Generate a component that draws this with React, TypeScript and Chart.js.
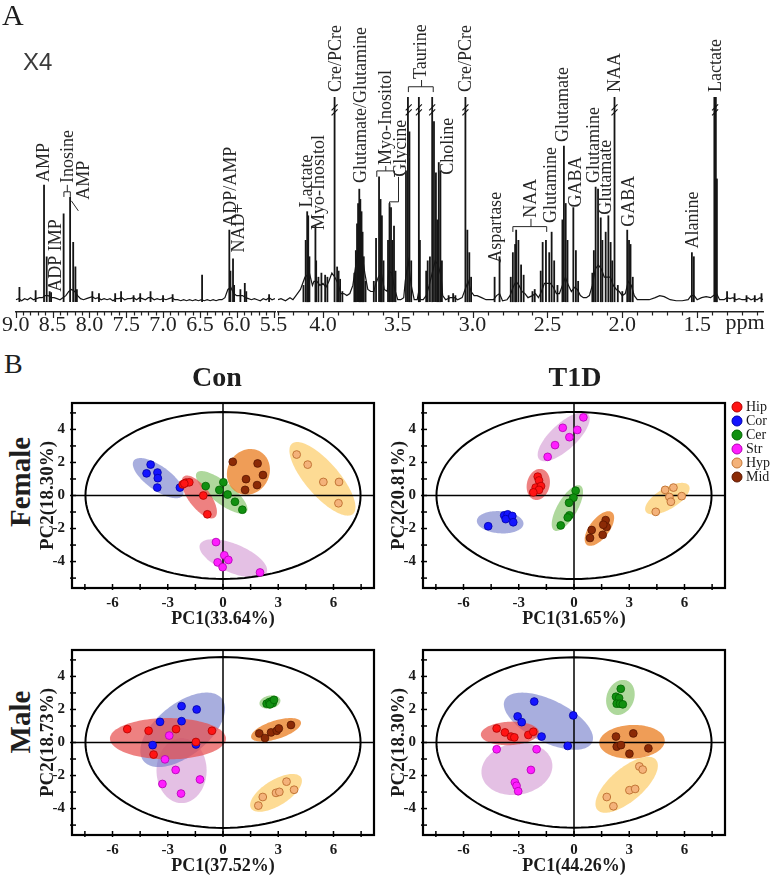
import React, { useEffect, useRef } from 'react';
import { Chart, registerables } from 'chart.js';

Chart.register(...registerables);

const SERIF = "'Liberation Serif', 'Times New Roman', serif";
const SANS = "'Liberation Sans', Arial, sans-serif";

// ================= Panel A : 1H NMR spectrum =================
const leftRange = [5.48, 9.0];
const rightRange = [1.06, 4.3];
const leftTickLabels = [9.0, 8.5, 8.0, 7.5, 7.0, 6.5, 6.0, 5.5];
const rightTickLabels = [4.0, 3.5, 3.0, 2.5, 2.0, 1.5];

// baseline trace [ppm, intensity]
const leftBaseline: number[][] = [
  [9.0, 1], [8.96, 1.5], [8.92, 0.5], [8.88, 1.5], [8.84, 1], [8.8, 2], [8.76, 1], [8.72, 1.5], [8.68, 2], [8.64, 2],
  [8.6, 3], [8.56, 3], [8.52, 2], [8.48, 2], [8.44, 1.5], [8.4, 1], [8.36, 2], [8.32, 3], [8.28, 5], [8.24, 6],
  [8.2, 5], [8.16, 3], [8.12, 1.5], [8.08, 1], [8.04, 1.5], [8.0, 2], [7.96, 2.5], [7.92, 1.5], [7.88, 2], [7.84, 1],
  [7.8, 1.5], [7.76, 1], [7.72, 1.5], [7.68, 0.5], [7.64, 1.5], [7.6, 1.5], [7.56, 2], [7.52, 1], [7.48, 1.5], [7.44, 1.5],
  [7.4, 2], [7.36, 1], [7.32, 2], [7.28, 1.5], [7.24, 1], [7.2, 2], [7.16, 2], [7.12, 1], [7.08, 1.5], [7.04, 1],
  [7.0, 1.5], [6.96, 1], [6.92, 1.5], [6.88, 2], [6.84, 1], [6.8, 1], [6.76, 0.5], [6.72, 1], [6.68, 0.5], [6.64, 1],
  [6.6, 0.5], [6.56, 1], [6.52, 0.5], [6.48, 1], [6.44, 0.5], [6.4, 1], [6.36, 0.5], [6.32, 1], [6.28, 0.5], [6.24, 1],
  [6.2, 1], [6.16, 2], [6.12, 6], [6.08, 7], [6.04, 4], [6.0, 3], [5.96, 3], [5.92, 3], [5.88, 2], [5.84, 1.5],
  [5.8, 1], [5.76, 1.5], [5.72, 1], [5.68, 0.5], [5.64, 1.5], [5.6, 1], [5.56, 2], [5.52, 1], [5.48, 1.5],
];
const leftPeaks: number[][] = [
  [8.95, 7], [8.73, 5.5], [8.616, 57], [8.58, 22], [8.54, 5], [8.52, 4.5],
  [8.35, 43], [8.262, 51], [8.22, 29], [8.19, 17], [8.17, 6],
  [7.96, 5], [7.87, 4], [7.65, 4], [7.57, 5], [7.4, 3], [7.31, 4], [7.17, 5], [7.0, 3], [6.87, 3.5],
  [6.47, 13], [6.1, 35], [6.085, 15], [6.05, 21], [6.035, 8], [5.95, 6], [5.89, 9], [5.87, 5], [5.56, 3.5],
];
const rightBaseline: number[][] = [
  [4.3, 1], [4.28, 1.5], [4.25, 0.5], [4.22, 2], [4.2, 1], [4.18, 3], [4.15, 6], [4.12, 12], [4.09, 14], [4.07, 8],
  [4.06, 10], [4.04, 10], [4.02, 8], [4.0, 9], [3.98, 7], [3.96, 10], [3.94, 14], [3.92, 12], [3.9, 9], [3.88, 4],
  [3.86, 4], [3.84, 3], [3.82, 4], [3.8, 8], [3.78, 18], [3.76, 26], [3.74, 24], [3.72, 14], [3.7, 6], [3.68, 5],
  [3.66, 5], [3.65, 8], [3.63, 12], [3.61, 14], [3.59, 6], [3.57, 5], [3.56, 15], [3.54, 14], [3.52, 6], [3.5, 1],
  [3.48, 1], [3.46, 2], [3.45, 10], [3.43, 20], [3.41, 8], [3.39, 1], [3.37, 1], [3.36, 5], [3.35, 1], [3.33, 1],
  [3.31, 3], [3.29, 8], [3.27, 14], [3.25, 20], [3.23, 18], [3.21, 12], [3.2, 3], [3.18, 1], [3.15, 2], [3.12, 2],
  [3.1, 1], [3.07, 2], [3.05, 6], [3.03, 10], [3.01, 5], [2.99, 3], [2.97, 3], [2.94, 2], [2.91, 1], [2.88, 1],
  [2.86, 1], [2.84, 3], [2.82, 4], [2.8, 0.5], [2.77, 1], [2.75, 3], [2.73, 7], [2.71, 10], [2.69, 8], [2.67, 5],
  [2.65, 4], [2.63, 2], [2.6, 3], [2.58, 4], [2.56, 2], [2.54, 5], [2.52, 9], [2.5, 9], [2.48, 9], [2.46, 7],
  [2.44, 4], [2.42, 4], [2.4, 8], [2.38, 12], [2.36, 8], [2.34, 5], [2.32, 7], [2.3, 6], [2.28, 3], [2.26, 2],
  [2.24, 2], [2.22, 3], [2.2, 8], [2.18, 16], [2.16, 18], [2.14, 16], [2.12, 12], [2.1, 12], [2.08, 12], [2.06, 8],
  [2.04, 6], [2.02, 5], [2.0, 3], [1.98, 4], [1.96, 10], [1.94, 8], [1.92, 3], [1.9, 1], [1.86, 1], [1.82, 1],
  [1.78, 2], [1.75, 3], [1.72, 2.5], [1.68, 1], [1.64, 0.5], [1.6, 0.5], [1.56, 1], [1.54, 3], [1.52, 3], [1.5, 1],
  [1.47, 2], [1.44, 2.5], [1.41, 2], [1.39, 3], [1.37, 4], [1.35, 1], [1.32, 1], [1.3, 2], [1.28, 1.5], [1.26, 2],
  [1.24, 1], [1.22, 1.5], [1.2, 1], [1.18, 1], [1.16, 2], [1.14, 1], [1.12, 1.5], [1.1, 1], [1.08, 2], [1.06, 1],
];
const rightPeaks: number[][] = [
  [4.13, 8], [4.115, 30], [4.105, 44], [4.098, 42], [4.09, 22],
  [4.05, 37], [4.045, 20], [4.03, 12], [4.01, 14], [3.985, 13], [3.97, 12],
  [3.922, 100], [3.905, 17], [3.895, 15], [3.885, 11], [3.87, 5],
  [3.79, 14], [3.78, 25], [3.772, 38], [3.765, 48], [3.757, 55], [3.75, 50], [3.742, 44], [3.735, 34], [3.727, 22], [3.715, 10],
  [3.66, 10], [3.645, 31], [3.625, 61], [3.615, 50], [3.606, 42], [3.595, 20],
  [3.565, 30], [3.555, 48], [3.545, 46], [3.535, 30], [3.525, 37], [3.515, 15],
  [3.445, 64], [3.432, 100], [3.422, 83], [3.41, 20],
  [3.359, 100], [3.352, 30],
  [3.31, 15], [3.3, 20], [3.285, 22], [3.27, 100], [3.258, 88], [3.245, 63], [3.236, 40], [3.226, 68], [3.215, 64], [3.205, 20],
  [3.16, 3], [3.13, 4], [3.115, 3],
  [3.048, 100], [3.035, 35], [3.022, 24], [3.01, 12],
  [2.853, 12], [2.82, 22],
  [2.745, 12], [2.731, 24], [2.716, 28], [2.709, 35], [2.694, 30], [2.676, 18], [2.659, 13],
  [2.6, 5], [2.585, 6],
  [2.545, 15], [2.532, 29], [2.51, 30], [2.488, 24], [2.472, 34], [2.455, 20], [2.433, 8],
  [2.4, 40], [2.39, 76], [2.378, 48], [2.366, 30],
  [2.327, 46], [2.31, 25], [2.295, 10],
  [2.2, 14], [2.19, 25], [2.178, 56], [2.162, 55], [2.144, 41], [2.133, 30],
  [2.111, 34], [2.093, 42], [2.078, 29], [2.067, 20],
  [2.052, 100], [2.03, 8], [2.0, 5],
  [1.967, 35], [1.955, 30], [1.945, 28], [1.93, 12],
  [1.535, 24], [1.522, 22],
  [1.385, 100], [1.375, 100], [1.368, 60],
  [1.3, 5], [1.25, 4], [1.17, 3], [1.115, 3], [1.07, 4],
];

// assignment labels [text, ppm, intensity where the text starts]
const leftLabels: [string, number, number][] = [
  ['AMP', 8.616, 58.5], ['ADP IMP', 8.45, 4.9], ['Inosine', 8.29, 58], ['AMP', 8.067, 49.8],
  ['ADP/AMP', 6.08, 36.6], ['NAD+', 5.96, 24],
];
const rightLabels: [string, number, number][] = [
  ['Lactate', 4.105, 46], ['Myo-Inositol', 4.025, 35], ['Cre/PCre', 3.912, 102.4], ['Glutamate/Glutamine', 3.746, 58],
  ['Myo-Inositol', 3.58, 66.8], ['Glycine', 3.475, 61], ['Taurine', 3.341, 108.8], ['Choline', 3.163, 62],
  ['Cre/PCre', 3.04, 102.4], ['Aspartase', 2.842, 19], ['NAA', 2.61, 41], ['Glutamine', 2.472, 38.5],
  ['Glutamate', 2.395, 78], ['GABA', 2.31, 46], ['Glutamine', 2.184, 58], ['Glutamate', 2.11, 42.5],
  ['NAA', 2.045, 102.4], ['GABA', 1.956, 36.6], ['Alanine', 1.525, 26], ['Lactate', 1.37, 102.4],
];
// bracket / leader segments [ppm1, I1, ppm2, I2]
const leftSegments: number[][] = [
  [8.346, 51.2, 8.346, 53.7], [8.346, 53.7, 8.259, 53.7], [8.259, 53.7, 8.259, 51.2], [8.3, 53.7, 8.3, 57.1],
  [8.245, 49.3, 8.15, 44.4],
];
const rightSegments: number[][] = [
  [3.64, 61, 3.64, 63.9], [3.64, 63.9, 3.522, 63.9], [3.522, 63.9, 3.522, 61], [3.58, 63.9, 3.58, 66.3],
  [3.555, 46.3, 3.555, 48.8], [3.555, 48.8, 3.495, 48.8], [3.495, 48.8, 3.495, 61],
  [3.429, 102.4, 3.429, 105], [3.429, 105, 3.263, 105], [3.263, 105, 3.263, 102.4], [3.341, 105, 3.341, 108.3],
  [2.731, 34.1, 2.731, 36.7], [2.731, 36.7, 2.505, 36.7], [2.505, 36.7, 2.505, 34.1], [2.61, 36.7, 2.61, 40.5],
];
const rightBreaks = [3.922, 3.427, 3.359, 3.27, 3.048, 2.052, 1.38];
const breakLevel = 93.7;

// ================= Panel B : PCA score plots =================
const groups = ['Hip', 'Cor', 'Cer', 'Str', 'Hyp', 'Mid'];
const pointFill = ['#ff1414', '#1414ff', '#119011', '#ff1eff', '#f4b27a', '#8b2a06'];
const pointEdge = ['#b00000', '#0000a8', '#006400', '#b000b0', '#c27636', '#5a1600'];
const ellipseFill = [
  'rgba(232,80,80,0.72)', 'rgba(110,120,200,0.6)', 'rgba(120,190,90,0.6)',
  'rgba(210,150,210,0.6)', 'rgba(252,200,90,0.65)', 'rgba(235,130,40,0.78)',
];
const ellipseOrder = [3, 1, 2, 4, 5, 0];
const xTickMarks = [-7.5, -6, -4.5, -3, -1.5, 0, 1.5, 3, 4.5, 6, 7.5];
const xTickLabels = [-6, -3, 0, 3, 6];
const yTickMarks = [-5, -4, -3, -2, -1, 0, 1, 2, 3, 4, 5];
const yTickLabels = [-4, -2, 0, 2, 4];

// Female / Con
const fcHip = [[-2.19, 0.67], [-2.01, 0.78], [-1.83, 0.8], [-2.1, 0.72], [-1.07, 0.0], [-0.85, -1.14]];
const fcCor = [[-3.93, 1.87], [-4.15, 1.34], [-3.56, 1.39], [-3.54, 1.05], [-3.57, 0.48], [-2.34, 0.48]];
const fcCer = [[-0.94, 0.57], [0.02, 0.8], [-0.2, 0.34], [0.25, 0.06], [0.65, -0.38], [1.05, -0.86]];
const fcStr = [[-0.38, -2.82], [0.07, -3.62], [0.29, -3.9], [-0.29, -4.05], [-0.02, -4.34], [2.01, -4.66]];
const fcHyp = [[4.0, 2.48], [4.6, 1.87], [5.45, 0.82], [6.3, 0.82], [6.27, -0.47]];
const fcMid = [[0.53, 2.04], [1.88, 1.94], [1.25, 0.99], [2.17, 1.24], [1.2, 0.34], [1.85, 0.63]];
const fcEllipses = [
  [-1.29, -0.09, 1.5, 0.6, -57], [-3.52, 1.05, 1.7, 0.7, -40], [-0.07, 0.19, 1.8, 0.62, -42],
  [0.56, -3.81, 2.0, 0.85, -26], [5.4, 1.01, 2.7, 0.95, -53], [1.38, 1.43, 1.4, 1.15, 75],
];
// Female / T1D
const ftHip = [[-1.97, 1.14], [-1.9, 0.91], [-2.08, 0.48], [-1.79, 0.57], [-1.9, 0.34], [-2.21, 0.19]];
const ftCor = [[-4.66, -1.86], [-3.79, -1.2], [-3.6, -1.14], [-3.71, -1.43], [-3.35, -1.24], [-3.3, -1.62]];
const ftCer = [[0.09, 0.29], [-0.03, -0.13], [-0.27, -0.44], [-0.25, -1.2], [-0.34, -1.33], [-0.72, -1.81]];
const ftStr = [[-1.43, 2.34], [-1.03, 3.05], [-0.61, 4.1], [-0.25, 3.53], [0.18, 3.97], [0.51, 4.73]];
const ftHyp = [[4.95, 0.34], [5.4, 0.48], [5.18, -0.09], [5.26, -0.38], [5.85, -0.04], [4.44, -0.99]];
const ftMid = [[1.72, -1.49], [1.77, -1.9], [1.59, -1.77], [0.96, -2.09], [0.87, -2.57], [1.56, -2.38]];
const ftEllipses = [
  [-1.94, 0.67, 0.95, 0.62, 80], [-4.01, -1.62, 1.27, 0.67, -5], [-0.36, -0.76, 1.53, 0.55, 63],
  [-0.56, 3.56, 1.91, 0.75, 47], [5.07, -0.19, 1.41, 0.62, 35], [1.38, -2.0, 1.2, 0.55, 57],
];
// Male / Con
const mcHip = [[-5.2, 0.81], [-4.04, 0.71], [-2.55, 0.81], [-0.6, 0.71], [-3.77, -0.73], [-1.47, 0.03]];
const mcCor = [[-2.25, 2.2], [-1.43, 2.0], [-3.42, 1.25], [-2.25, 1.29], [-3.82, -0.16], [-1.47, -0.12]];
const mcCer = [[2.37, 2.35], [2.52, 2.45], [2.65, 2.49], [2.7, 2.39], [2.55, 2.31], [2.77, 2.58]];
const mcStr = [[-2.92, 0.42], [-3.15, -1.02], [-2.57, -1.66], [-1.25, -2.24], [-3.29, -2.51], [-2.28, -3.09]];
const mcHyp = [[1.92, -3.82], [2.16, -3.3], [2.88, -3.05], [3.06, -2.99], [3.45, -2.37], [3.86, -2.86]];
const mcMid = [[1.97, 0.55], [2.28, 0.27], [2.61, 0.61], [2.92, 0.71], [3.03, 0.85], [3.69, 1.06]];
const mcEllipses = [
  [-2.99, 0.23, 3.15, 1.25, 0], [-2.19, 0.77, 2.85, 1.5, 44], [2.55, 2.45, 0.58, 0.39, 15],
  [-2.25, -1.7, 1.36, 1.97, 0], [2.88, -3.05, 1.65, 0.75, 36], [2.88, 0.77, 1.43, 0.55, 20],
];
// Male / T1D
const mtHip = [[-4.2, 0.85], [-3.75, 0.61], [-3.42, 0.36], [-3.24, 0.31], [-2.48, 0.46], [-2.21, 0.65]];
const mtCor = [[-2.16, 2.48], [-3.06, 1.58], [-2.84, 1.23], [-1.76, 0.36], [-0.04, 1.64], [-0.34, -0.21]];
const mtCer = [[2.54, 3.25], [2.28, 2.77], [2.45, 2.69], [2.32, 2.35], [2.5, 2.35], [2.65, 2.31]];
const mtStr = [[-4.2, -0.41], [-2.03, -0.41], [-2.34, -1.66], [-3.21, -2.41], [-3.12, -2.62], [-3.03, -2.95]];
const mtHyp = [[3.55, -1.45], [3.73, -1.64], [3.01, -2.89], [3.32, -2.81], [1.78, -3.3], [2.14, -3.86]];
const mtMid = [[2.28, 0.36], [3.22, 0.55], [2.32, -0.25], [2.55, -0.16], [3.01, -0.68], [4.04, -0.35]];
const mtEllipses = [
  [-3.48, 0.55, 1.58, 0.71, 3], [-1.39, 1.29, 2.7, 1.25, -30], [2.52, 2.73, 1.08, 0.75, 75],
  [-3.1, -1.6, 1.95, 1.55, 15], [2.86, -2.56, 2.2, 0.95, 45], [3.15, 0.04, 1.78, 1.02, 3],
];

const plots = [
  { key: 'fc', left: 72, top: 393, points: [fcHip, fcCor, fcCer, fcStr, fcHyp, fcMid], ellipses: fcEllipses, t2: [7.47, 5.05], xTitle: 'PC1(33.64%)', yTitle: 'PC2(18.30%)', legend: false },
  { key: 'ft', left: 423, top: 393, points: [ftHip, ftCor, ftCer, ftStr, ftHyp, ftMid], ellipses: ftEllipses, t2: [7.47, 5.06], xTitle: 'PC1(31.65%)', yTitle: 'PC2(20.81%)', legend: true },
  { key: 'mc', left: 72, top: 640, points: [mcHip, mcCor, mcCer, mcStr, mcHyp, mcMid], ellipses: mcEllipses, t2: [7.47, 5.17], xTitle: 'PC1(37.52%)', yTitle: 'PC2(18.73%)', legend: false },
  { key: 'mt', left: 423, top: 640, points: [mtHip, mtCor, mtCer, mtStr, mtHyp, mtMid], ellipses: mtEllipses, t2: [7.47, 5.16], xTitle: 'PC1(44.26%)', yTitle: 'PC2(18.30%)', legend: false },
];

// ---------------- helpers ----------------
function ellipsePath(ctx: CanvasRenderingContext2D, xs: any, ys: any, e: number[]) {
  const [cx, cy, rx, ry, ang] = e;
  const a = (ang * Math.PI) / 180;
  ctx.beginPath();
  const n = 120;
  for (let i = 0; i <= n; i++) {
    const t = (i / n) * Math.PI * 2;
    const dx = rx * Math.cos(t);
    const dy = ry * Math.sin(t);
    const px = xs.getPixelForValue(cx + dx * Math.cos(a) - dy * Math.sin(a));
    const py = ys.getPixelForValue(cy + dx * Math.sin(a) + dy * Math.cos(a));
    if (i === 0) ctx.moveTo(px, py);
    else ctx.lineTo(px, py);
  }
  ctx.closePath();
}

function makeSpectrumPlugin(labels: [string, number, number][], segments: number[][], breaks: number[], range: number[], showPpm: boolean) {
  return {
    id: 'spectrumDecor',
    afterDraw(chart: any) {
      const { ctx, chartArea: a, scales } = chart;
      const x = scales.x;
      const y = scales.y;
      ctx.save();
      ctx.strokeStyle = '#222';
      ctx.lineWidth = 1.2;
      const lo = Math.ceil(range[0] * 10 - 1e-6);
      const hi = Math.floor(range[1] * 10 + 1e-6);
      for (let k = lo; k <= hi; k++) {
        const px = Math.round(x.getPixelForValue(k / 10)) + 0.5;
        const len = k % 5 === 0 ? 6 : 3.5;
        ctx.beginPath();
        ctx.moveTo(px, a.bottom);
        ctx.lineTo(px, a.bottom + len);
        ctx.stroke();
      }
      ctx.fillStyle = '#262626';
      ctx.font = `18px ${SERIF}`;
      for (const [text, ppm, inten] of labels) {
        const px = x.getPixelForValue(ppm);
        const py = y.getPixelForValue(inten);
        ctx.save();
        ctx.translate(px, py);
        ctx.rotate(-Math.PI / 2);
        ctx.textAlign = 'left';
        ctx.textBaseline = 'middle';
        ctx.fillText(text, 0, 0);
        ctx.restore();
      }
      ctx.strokeStyle = '#262626';
      ctx.lineWidth = 1;
      for (const [p1, i1, p2, i2] of segments) {
        ctx.beginPath();
        ctx.moveTo(x.getPixelForValue(p1), y.getPixelForValue(i1));
        ctx.lineTo(x.getPixelForValue(p2), y.getPixelForValue(i2));
        ctx.stroke();
      }
      ctx.strokeStyle = '#111';
      ctx.lineWidth = 1.1;
      for (const ppm of breaks) {
        const px = x.getPixelForValue(ppm);
        const py = y.getPixelForValue(breakLevel);
        for (const off of [-2.5, 2.5]) {
          ctx.beginPath();
          ctx.moveTo(px - 3, py + off + 3);
          ctx.lineTo(px + 3, py + off - 3);
          ctx.stroke();
        }
      }
      if (showPpm) {
        ctx.font = `22px ${SERIF}`;
        ctx.textAlign = 'center';
        ctx.textBaseline = 'middle';
        ctx.fillStyle = '#222';
        ctx.fillText('ppm', a.right - 18, a.bottom + 11);
      }
      ctx.restore();
    },
  };
}

function spectrumConfig(range: number[], tickLabels: number[], baseline: number[][], peaks: number[][], labels: any, segments: number[][], breaks: number[], padLeft: number, padRight: number, showPpm: boolean) {
  return {
    type: 'bar',
    data: {
      datasets: [
        {
          type: 'bar',
          data: peaks.map(([x, y]) => ({ x, y })),
          backgroundColor: '#151515',
          barThickness: 1.15,
          grouped: false,
        },
        {
          type: 'line',
          data: baseline.map(([x, y]) => ({ x, y })),
          borderColor: '#151515',
          borderWidth: 1.2,
          pointRadius: 0,
          tension: 0,
          fill: false,
        },
      ],
    },
    options: {
      animation: false,
      responsive: false,
      devicePixelRatio: 1,
      layout: { padding: { left: padLeft, right: padRight, top: 97, bottom: 0 } },
      plugins: { legend: { display: false }, tooltip: { enabled: false } },
      scales: {
        x: {
          type: 'linear',
          reverse: true,
          min: range[0],
          max: range[1],
          offset: false,
          grid: { display: false, drawTicks: false },
          border: { display: true, color: '#222', width: 1.5 },
          ticks: {
            autoSkip: false,
            maxRotation: 0,
            padding: 2,
            color: '#222',
            font: { family: SERIF, size: 22, lineHeight: 1 },
            callback: (v: any) => Number(v).toFixed(1),
          },
          afterBuildTicks: (s: any) => {
            s.ticks = tickLabels.map((v) => ({ value: v }));
          },
          afterFit: (s: any) => {
            s.height = 28;
          },
        },
        y: { display: false, min: -5, max: 100 },
      },
    },
    plugins: [makeSpectrumPlugin(labels, segments, breaks, range, showPpm)],
  };
}

function makeScatterPlugin(p: any) {
  return {
    id: 'pcaDecor',
    beforeDatasetsDraw(chart: any) {
      const { ctx, chartArea: a, scales } = chart;
      const x = scales.x;
      const y = scales.y;
      ctx.save();
      ctx.beginPath();
      ctx.rect(a.left, a.top, a.right - a.left, a.bottom - a.top);
      ctx.clip();
      for (const i of ellipseOrder) {
        ellipsePath(ctx, x, y, p.ellipses[i]);
        ctx.fillStyle = ellipseFill[i];
        ctx.fill();
      }
      ellipsePath(ctx, x, y, [0, 0, p.t2[0], p.t2[1], 0]);
      ctx.strokeStyle = '#000';
      ctx.lineWidth = 2;
      ctx.stroke();
      const x0 = x.getPixelForValue(0);
      const y0 = y.getPixelForValue(0);
      ctx.lineWidth = 1.5;
      ctx.beginPath();
      ctx.moveTo(x0, a.top);
      ctx.lineTo(x0, a.bottom);
      ctx.moveTo(a.left, y0);
      ctx.lineTo(a.right, y0);
      ctx.stroke();
      ctx.restore();
    },
    afterDraw(chart: any) {
      const { ctx, chartArea: a, scales } = chart;
      const x = scales.x;
      const y = scales.y;
      ctx.save();
      ctx.strokeStyle = '#000';
      ctx.lineWidth = 1.5;
      for (const v of xTickMarks) {
        const px = x.getPixelForValue(v);
        ctx.beginPath();
        ctx.moveTo(px, a.bottom - 4);
        ctx.lineTo(px, a.bottom + 2);
        ctx.stroke();
      }
      for (const v of yTickMarks) {
        const py = y.getPixelForValue(v);
        ctx.beginPath();
        ctx.moveTo(a.left - 2, py);
        ctx.lineTo(a.left + 4, py);
        ctx.stroke();
      }
      ctx.lineWidth = 2.2;
      ctx.strokeRect(a.left, a.top, a.right - a.left, a.bottom - a.top);
      if (p.legend) {
        ctx.font = `14px ${SERIF}`;
        ctx.textAlign = 'left';
        ctx.textBaseline = 'middle';
        groups.forEach((g, i) => {
          const cy = a.top + 4 + i * 14;
          const cx = a.right + 12;
          ctx.beginPath();
          ctx.arc(cx, cy, 5, 0, Math.PI * 2);
          ctx.fillStyle = pointFill[i];
          ctx.fill();
          ctx.lineWidth = 1;
          ctx.strokeStyle = pointEdge[i];
          ctx.stroke();
          ctx.fillStyle = '#1a1a1a';
          ctx.fillText(g, a.right + 21, cy + 0.5);
        });
      }
      ctx.restore();
    },
  };
}

function scatterConfig(p: any) {
  return {
    type: 'scatter',
    data: {
      datasets: groups.map((g, i) => ({
        label: g,
        data: p.points[i].map(([x, y]: number[]) => ({ x, y })),
        backgroundColor: pointFill[i],
        borderColor: pointEdge[i],
        borderWidth: i === 4 ? 1 : 0.8,
        pointRadius: 3.9,
      })),
    },
    options: {
      animation: false,
      responsive: false,
      devicePixelRatio: 1,
      layout: { padding: { left: 0, top: 6, right: p.legend ? 50 : 8, bottom: 0 } },
      plugins: { legend: { display: false }, tooltip: { enabled: false } },
      scales: {
        x: {
          type: 'linear',
          min: -8.2,
          max: 8.2,
          grid: { display: false, drawTicks: false },
          border: { display: false },
          ticks: {
            autoSkip: false,
            maxRotation: 0,
            padding: 6,
            color: '#1a1a1a',
            font: { family: SERIF, size: 15, weight: 'bold' },
            callback: (v: any) => (xTickLabels.includes(v) ? String(v) : ''),
          },
          afterBuildTicks: (s: any) => {
            s.ticks = xTickMarks.map((v) => ({ value: v }));
          },
          afterFit: (s: any) => {
            s.height = 46;
          },
          title: {
            display: true,
            text: p.xTitle,
            color: '#1a1a1a',
            font: { family: SERIF, size: 18, weight: 'bold' },
            padding: { top: 0, bottom: 4 },
          },
        },
        y: {
          type: 'linear',
          min: -5.6,
          max: 5.6,
          grid: { display: false, drawTicks: false },
          border: { display: false },
          ticks: {
            autoSkip: false,
            padding: 7,
            color: '#1a1a1a',
            font: { family: SERIF, size: 15, weight: 'bold' },
            callback: (v: any) => (yTickLabels.includes(v) ? String(v) : ''),
          },
          afterBuildTicks: (s: any) => {
            s.ticks = yTickMarks.map((v) => ({ value: v }));
          },
          afterFit: (s: any) => {
            s.width = 36;
          },
          title: {
            display: true,
            text: p.yTitle,
            color: '#1a1a1a',
            font: { family: SERIF, size: 19, weight: 'bold' },
            padding: { top: 1, bottom: 0 },
          },
        },
      },
    },
    plugins: [makeScatterPlugin(p)],
  };
}

function ChartBox({ make, left, top, width, height }: { make: () => any; left: number; top: number; width: number; height: number }) {
  const ref = useRef<HTMLCanvasElement>(null);
  useEffect(() => {
    const chart = new Chart(ref.current as HTMLCanvasElement, make());
    return () => chart.destroy();
  }, []);
  return (
    <canvas
      ref={ref}
      width={width}
      height={height}
      style={{ position: 'absolute', left, top, width, height, display: 'block' }}
    />
  );
}

const textBase: React.CSSProperties = { position: 'absolute', lineHeight: 1, whiteSpace: 'nowrap', color: '#1e1e1e' };

export default function App() {
  return (
    <div style={{ position: 'absolute', left: 0, top: 0, width: 775, height: 881, background: '#fff', overflow: 'hidden' }}>
      <ChartBox
        make={() => spectrumConfig(leftRange, leftTickLabels, leftBaseline, leftPeaks, leftLabels, leftSegments, [], 15, 25, false)}
        left={0}
        top={0}
        width={300}
        height={340}
      />
      <ChartBox
        make={() => spectrumConfig(rightRange, rightTickLabels, rightBaseline, rightPeaks, rightLabels, rightSegments, rightBreaks, 1, 12, true)}
        left={277}
        top={0}
        width={498}
        height={340}
      />
      {plots.map((p) => (
        <ChartBox
          key={p.key}
          make={() => scatterConfig(p)}
          left={p.left - 36}
          top={p.top - 6}
          width={36 + 302 + (p.legend ? 50 : 8)}
          height={6 + 195 + 46}
        />
      ))}
      <div style={{ ...textBase, left: 2, top: 0, fontFamily: SERIF, fontSize: 30 }}>A</div>
      <div style={{ ...textBase, left: 23, top: 50, fontFamily: SANS, fontSize: 24, color: '#3a3a3a' }}>X4</div>
      <div style={{ ...textBase, left: 4, top: 350, fontFamily: SERIF, fontSize: 28 }}>B</div>
      <div style={{ ...textBase, left: 217, top: 363, transform: 'translateX(-50%)', fontFamily: SERIF, fontSize: 28, fontWeight: 'bold' }}>Con</div>
      <div style={{ ...textBase, left: 575, top: 363, transform: 'translateX(-50%)', fontFamily: SERIF, fontSize: 28, fontWeight: 'bold' }}>T1D</div>
      <div style={{ ...textBase, left: 20, top: 482, transform: 'translate(-50%, -50%) rotate(-90deg)', fontFamily: SERIF, fontSize: 29, fontWeight: 'bold' }}>Female</div>
      <div style={{ ...textBase, left: 20, top: 722, transform: 'translate(-50%, -50%) rotate(-90deg)', fontFamily: SERIF, fontSize: 29, fontWeight: 'bold' }}>Male</div>
    </div>
  );
}
